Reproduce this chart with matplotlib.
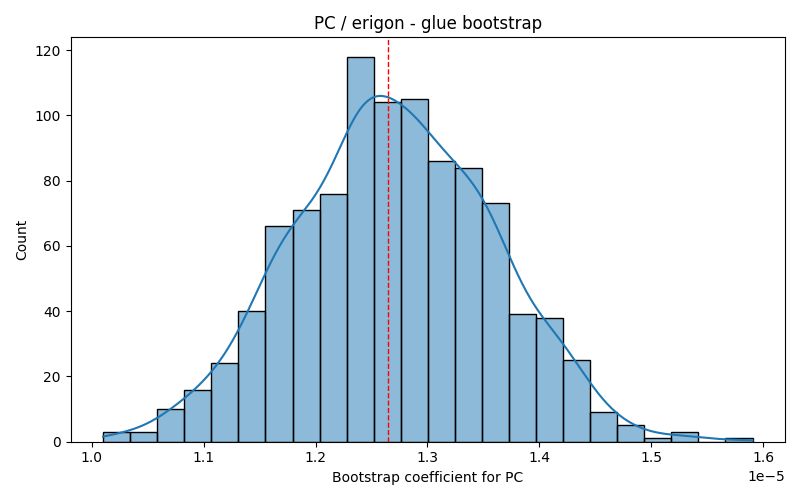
import numpy as np
import matplotlib
matplotlib.use('Agg')
import matplotlib.pyplot as plt

# histogram (24 bins, 1000 bootstrap samples)
bin_start = 1.0101e-5
bin_end = 1.5905e-5
counts = [3, 3, 10, 16, 24, 40, 66, 71, 76, 118, 104, 105,
          86, 84, 73, 39, 38, 25, 9, 5, 1, 3, 0, 1]
mean_coef = 1.2645e-5

edges = np.linspace(bin_start, bin_end, len(counts) + 1)
centers = (edges[:-1] + edges[1:]) / 2
width = edges[1] - edges[0]
w = np.array(counts, dtype=float)

fig, ax = plt.subplots(figsize=(8, 5), dpi=100)
ax.bar(edges[:-1], w, width=width, align='edge',
       facecolor=(0.122, 0.467, 0.706, 0.5), edgecolor='black', linewidth=1)

# weighted gaussian KDE of the binned sample, scaled to counts
n = w.sum()
mu = np.sum(w * centers) / n
sd = np.sqrt(np.sum(w * (centers - mu) ** 2) / n)
bw = sd * n ** (-1 / 5)
grid = np.linspace(bin_start, bin_end, 300)
dens = np.sum(w[None, :] * np.exp(-0.5 * ((grid[:, None] - centers[None, :]) / bw) ** 2), axis=1)
dens = dens / (n * bw * np.sqrt(2 * np.pi))
ax.plot(grid, dens * n * width, color='#1f77b4', linewidth=1.5)

ax.axvline(mean_coef, color='red', linestyle='--', linewidth=1)
ax.set_title('PC / erigon - glue bootstrap')
ax.set_xlabel('Bootstrap coefficient for PC')
ax.set_ylabel('Count')

plt.tight_layout()
fig.savefig('out.png', dpi=100)
